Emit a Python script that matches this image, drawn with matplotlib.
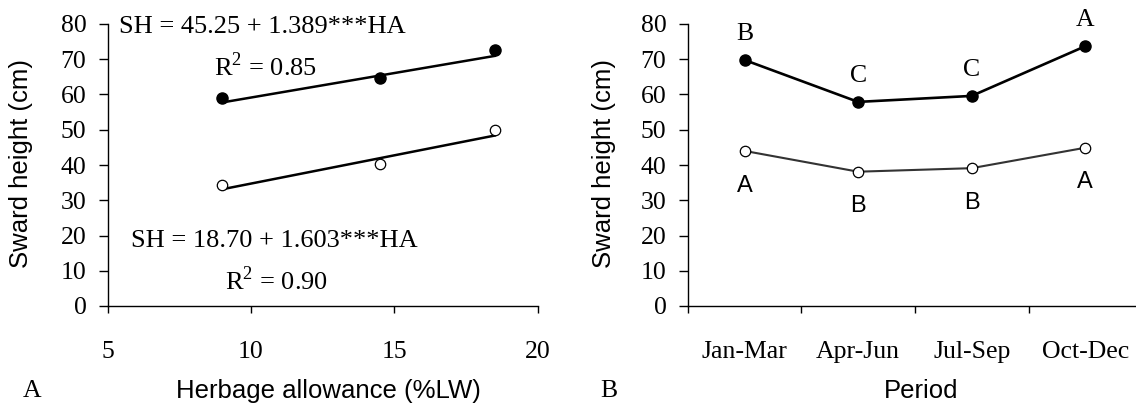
import matplotlib.pyplot as plt
import numpy as np

plt.rcParams['mathtext.fontset'] = 'custom'
plt.rcParams['mathtext.rm'] = 'Liberation Serif'

serif = 'Liberation Serif'
sans = 'Liberation Sans'

# panel A data
ha_x = [9.0, 14.5, 18.5]
sh_high = [59.1, 64.6, 72.5]   # filled
sh_low = [34.4, 40.4, 49.8]    # open
fit_high = (45.25, 1.389)
fit_low = (18.70, 1.603)

# panel B data
periods = ['Jan-Mar', 'Apr-Jun', 'Jul-Sep', 'Oct-Dec']
per_high = [69.8, 57.9, 59.6, 73.7]
per_low = [44.0, 38.1, 39.1, 44.9]
letters_high = ['B', 'C', 'C', 'A']
letters_low = ['A', 'B', 'B', 'A']

W, H = 1136, 404
fig = plt.figure(figsize=(W / 100, H / 100), dpi=100)
ax1 = fig.add_axes([107.7 / W, 98 / H, 430 / W, 282 / H])
ax2 = fig.add_axes([687.7 / W, 98 / H, 454.4 / W, 282 / H])

tick_fs = 18.5
for ax in (ax1, ax2):
    ax.spines['top'].set_visible(False)
    ax.spines['right'].set_visible(False)
    ax.spines['left'].set_linewidth(1.0)
    ax.spines['bottom'].set_linewidth(1.0)
    ax.set_ylim(0, 80)
    ax.set_yticks(range(0, 81, 10))
    ax.tick_params(axis='y', direction='out', length=6.3, width=1.0, pad=9)
    ax.tick_params(axis='x', direction='out', length=5, width=1.0, pad=20)
    for lab in ax.get_yticklabels():
        lab.set_fontfamily(serif)
        lab.set_fontsize(tick_fs)

# ---- panel A
ax1.set_xlim(5, 20)
ax1.set_xticks([5, 10, 15, 20])
ax1.set_xticklabels(['5', '10', '15', '20'], fontfamily=serif, fontsize=tick_fs)
xx = np.array([min(ha_x), max(ha_x)])
ax1.plot(xx, fit_high[0] + fit_high[1] * xx, color='black', lw=1.8)
ax1.plot(xx, fit_low[0] + fit_low[1] * xx, color='black', lw=1.8)
ax1.plot(ha_x, sh_high, 'o', color='black', ms=8, clip_on=False)
ax1.plot(ha_x, sh_low, 'o', mfc='white', mec='black', mew=0.9, ms=7.5, clip_on=False)

tk = dict(fontfamily=serif, fontsize=19, ha='left', va='baseline')
ax1.text(5.41, 77.4, 'SH = 45.25 + 1.389***HA', **tk)
ax1.text(8.72, 65.2, r'R$^{2}$ = 0.85', **tk)
ax1.text(5.81, 16.8, 'SH = 18.70 + 1.603***HA', **tk)
ax1.text(9.09, 4.5, r'R$^{2}$ = 0.90', **tk)

# ---- panel B
xpos = np.arange(1, len(periods) + 1)
ax2.set_xlim(0.5, 4.5)
ax2.set_xticks(np.arange(0.5, 4.6, 1.0))
ax2.set_xticklabels([])
ax2.set_xticks(xpos, minor=True)
ax2.set_xticklabels(periods, minor=True, fontfamily=serif, fontsize=tick_fs)
ax2.tick_params(axis='x', which='minor', length=0, pad=25)
ax2.plot(xpos, per_high, '-o', color='black', lw=1.9, ms=8, clip_on=False)
ax2.plot(xpos, per_low, '-o', color='#333333', lw=1.5, mfc='white', mec='black',
         mew=0.9, ms=7.5, clip_on=False)
for x, y, s in zip(xpos, per_high, letters_high):
    ax2.annotate(s, (x, y), xytext=(0, 19), textcoords='offset points',
                 ha='center', va='center', fontfamily=serif, fontsize=18.5)
for x, y, s in zip(xpos, per_low, letters_low):
    ax2.annotate(s, (x, y), xytext=(0, -25), textcoords='offset points',
                 ha='center', va='center', fontfamily=sans, fontsize=17)

# axis titles and panel letters
lk = dict(fontfamily=sans, fontsize=18.5, ha='center', va='center')
fig.text(21.5 / W, 1 - 163.5 / H, 'Sward height (cm)', rotation=90, **lk)
fig.text(604 / W, 1 - 163.5 / H, 'Sward height (cm)', rotation=90, **lk)
fig.text(328 / W, 1 - 391 / H, 'Herbage allowance (%LW)', **lk)
fig.text(921 / W, 1 - 391 / H, 'Period', **lk)
fig.text(32 / W, 1 - 391 / H, 'A', fontfamily=serif, fontsize=18.5, ha='center', va='center')
fig.text(609 / W, 1 - 391 / H, 'B', fontfamily=serif, fontsize=18.5, ha='center', va='center')

fig.savefig('out.png', dpi=100)
